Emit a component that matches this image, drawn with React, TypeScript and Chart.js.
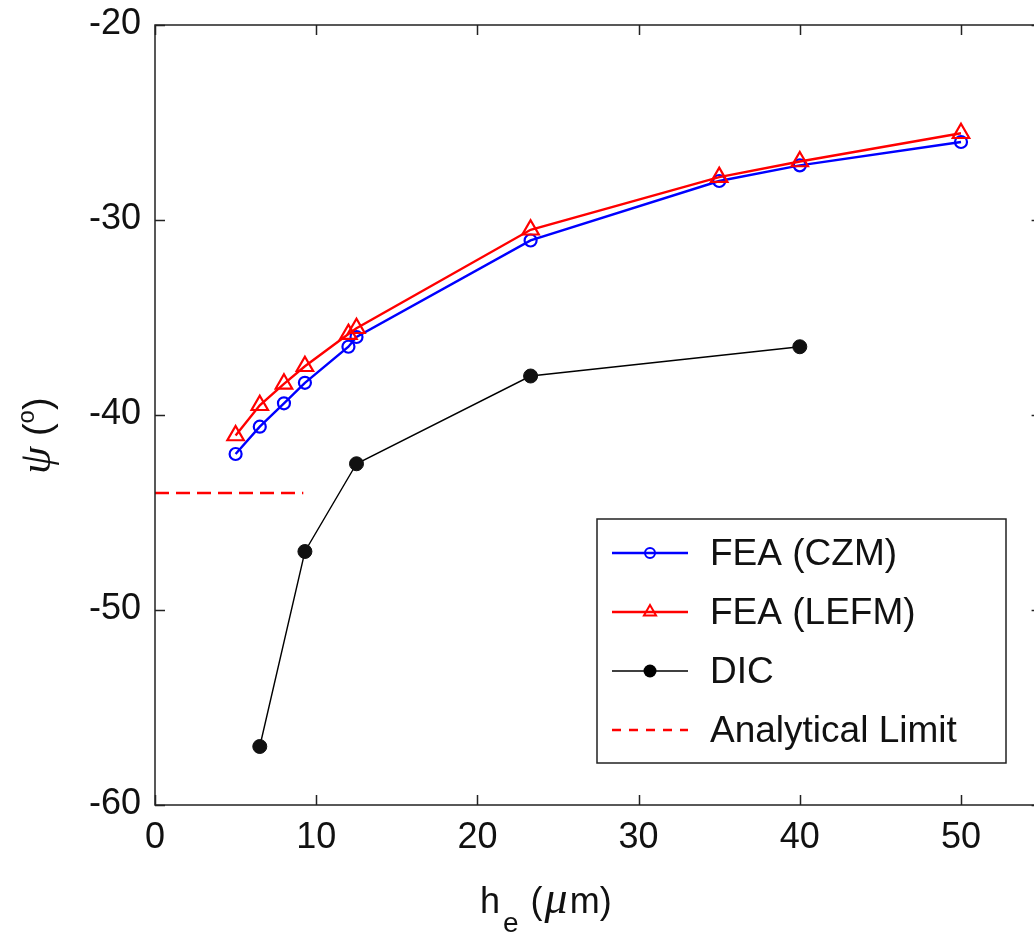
import { useEffect, useRef } from "react";
import { Chart, registerables } from "chart.js";

Chart.register(...registerables);

// Crack-tip mode mixity psi versus element height h_e
const heFea = [5, 6.5, 8, 9.3, 12, 12.5, 23.3, 35, 40, 50];
const psiCzm = [-42, -40.6, -39.4, -38.35, -36.5, -36, -31.05, -28, -27.2, -26];
const psiLefm = [-41.05, -39.5, -38.4, -37.5, -35.85, -35.55, -30.5, -27.8, -27, -25.55];
const heDic = [6.5, 9.3, 12.5, 23.3, 40];
const psiDic = [-57, -47, -42.5, -38, -36.5];
const heLimit = [0, 9.2];
const psiLimit = [-44, -44];

const xTicks = [0, 10, 20, 30, 40, 50];
const yTicks = [-60, -50, -40, -30, -20];
const legendLabels = ["FEA (CZM)", "FEA (LEFM)", "DIC", "Analytical Limit"];

const FONT = '"Liberation Sans", Arial, sans-serif';
const MATH = '"Liberation Serif", "DejaVu Serif", serif';
const W = 1060;
const H = 939;

const pts = (xs: number[], ys: number[]) => xs.map((x, i) => ({ x, y: ys[i] }));

const frame = {
  id: "frame",
  afterDraw(chart: any) {
    const { ctx, chartArea: a, scales } = chart;
    const xs = scales.x;
    const ys = scales.y;
    ctx.save();
    ctx.strokeStyle = "#222";
    ctx.lineWidth = 1.5;
    ctx.strokeRect(a.left, a.top, a.right - a.left, a.bottom - a.top);
    // inward ticks on all four sides
    const tl = 10;
    ctx.beginPath();
    xTicks.forEach((v) => {
      const px = Math.round(xs.getPixelForValue(v)) + 0.5;
      ctx.moveTo(px, a.bottom);
      ctx.lineTo(px, a.bottom - tl);
      ctx.moveTo(px, a.top);
      ctx.lineTo(px, a.top + tl);
    });
    yTicks.forEach((v) => {
      const py = Math.round(ys.getPixelForValue(v)) + 0.5;
      ctx.moveTo(a.left, py);
      ctx.lineTo(a.left + tl, py);
      ctx.moveTo(a.right, py);
      ctx.lineTo(a.right - tl, py);
    });
    ctx.stroke();

    // tick labels
    ctx.fillStyle = "#111";
    ctx.font = `36px ${FONT}`;
    ctx.textBaseline = "middle";
    ctx.textAlign = "center";
    xTicks.forEach((v) => {
      ctx.fillText(String(v), xs.getPixelForValue(v), a.bottom + 33);
    });
    ctx.textAlign = "right";
    yTicks.forEach((v) => {
      ctx.fillText(String(v), a.left - 14, ys.getPixelForValue(v) - 1);
    });

    // x title: h_e (μm)
    const base = 913;
    let x = 480;
    ctx.textAlign = "left";
    ctx.textBaseline = "alphabetic";
    ctx.font = `36px ${FONT}`;
    ctx.fillText("h", x, base);
    x += ctx.measureText("h").width + 3;
    ctx.font = `28px ${FONT}`;
    ctx.fillText("e", x, base + 19);
    x += ctx.measureText("e").width + 2;
    ctx.font = `36px ${FONT}`;
    ctx.fillText(" (", x, base);
    x += ctx.measureText(" (").width + 2;
    ctx.font = `italic 46px ${MATH}`;
    ctx.fillText("\u03bc", x, base);
    x += ctx.measureText("\u03bc").width + 2;
    ctx.font = `36px ${FONT}`;
    ctx.fillText("m)", x, base);

    // y title: psi (°)
    ctx.translate(50, 474);
    ctx.rotate(-Math.PI / 2);
    let y = 0;
    ctx.font = `italic 44px ${MATH}`;
    ctx.fillText("\u03c8", y, 0);
    y += ctx.measureText("\u03c8").width;
    ctx.font = `38px ${FONT}`;
    ctx.fillText(" (", y, 0);
    y += ctx.measureText(" (").width;
    ctx.font = `24px ${FONT}`;
    ctx.fillText("o", y, -16);
    y += ctx.measureText("o").width;
    ctx.font = `38px ${FONT}`;
    ctx.fillText(")", y, 0);
    ctx.restore();

    // legend
    ctx.save();
    const lx = 597, ly = 519, lw = 409, lh = 244;
    ctx.fillStyle = "#fff";
    ctx.fillRect(lx, ly, lw, lh);
    ctx.strokeStyle = "#222";
    ctx.lineWidth = 1.5;
    ctx.strokeRect(lx, ly, lw, lh);
    const rows = [553, 612, 671, 730];
    const colors = ["#0000ff", "#ff0000", "#000000", "#ff0000"];
    rows.forEach((ry, i) => {
      ctx.strokeStyle = colors[i];
      ctx.lineWidth = i === 2 ? 1.4 : 2.4;
      ctx.setLineDash(i === 3 ? [9, 8] : []);
      ctx.beginPath();
      ctx.moveTo(612, ry);
      ctx.lineTo(688, ry);
      ctx.stroke();
      ctx.setLineDash([]);
      ctx.lineWidth = 2;
      if (i === 0) {
        ctx.beginPath();
        ctx.arc(650, ry, 5, 0, Math.PI * 2);
        ctx.stroke();
      } else if (i === 1) {
        const r = 7;
        ctx.beginPath();
        ctx.moveTo(650, ry - r);
        ctx.lineTo(650 + r * 0.866, ry + r * 0.5);
        ctx.lineTo(650 - r * 0.866, ry + r * 0.5);
        ctx.closePath();
        ctx.stroke();
      } else if (i === 2) {
        ctx.fillStyle = "#000";
        ctx.beginPath();
        ctx.arc(650, ry, 6.5, 0, Math.PI * 2);
        ctx.fill();
      }
      ctx.fillStyle = "#111";
      ctx.font = `37px ${FONT}`;
      ctx.textAlign = "left";
      ctx.textBaseline = "middle";
      ctx.fillText(legendLabels[i], 710, ry + 2);
    });
    ctx.restore();
  },
};

export default function App() {
  const ref = useRef<HTMLCanvasElement>(null);

  useEffect(() => {
    if (!ref.current) return;
    const chart = new Chart(ref.current, {
      type: "scatter",
      data: {
        datasets: [
          {
            label: "Analytical Limit",
            data: pts(heLimit, psiLimit),
            showLine: true,
            borderColor: "#ff0000",
            borderWidth: 2.4,
            borderDash: [14, 7],
            pointRadius: 0,
          },
          {
            label: "DIC",
            data: pts(heDic, psiDic),
            showLine: true,
            borderColor: "#000",
            borderWidth: 1.4,
            pointRadius: 7,
            pointBackgroundColor: "#111",
            pointBorderColor: "#111",
            pointBorderWidth: 1,
          },
          {
            label: "FEA (LEFM)",
            data: pts(heFea, psiLefm),
            showLine: true,
            borderColor: "#ff0000",
            borderWidth: 2.4,
            pointStyle: "triangle",
            pointRadius: 9.5,
            pointBackgroundColor: "rgba(255,255,255,0)",
            pointBorderColor: "#ff0000",
            pointBorderWidth: 2.2,
          },
          {
            label: "FEA (CZM)",
            data: pts(heFea, psiCzm),
            showLine: true,
            borderColor: "#0000ff",
            borderWidth: 2.4,
            pointStyle: "circle",
            pointRadius: 6,
            pointBackgroundColor: "rgba(255,255,255,0)",
            pointBorderColor: "#0000ff",
            pointBorderWidth: 2.2,
          },
        ],
      },
      options: {
        responsive: false,
        animation: false,
        events: [],
        layout: { padding: { left: 155, top: 25, right: W - 1041.6, bottom: H - 805 } },
        plugins: { legend: { display: false }, tooltip: { enabled: false } },
        scales: {
          x: {
            type: "linear",
            min: 0,
            max: 55,
            grid: { display: false },
            border: { display: false },
            ticks: { display: false },
            afterFit: (s: any) => {
              s.height = 0;
            },
          },
          y: {
            type: "linear",
            min: -60,
            max: -20,
            grid: { display: false },
            border: { display: false },
            ticks: { display: false },
            afterFit: (s: any) => {
              s.width = 0;
            },
          },
        },
      },
      plugins: [frame],
    });
    return () => chart.destroy();
  }, []);

  return (
    <div
      style={{
        position: "absolute",
        left: 0,
        top: 0,
        width: 1034,
        height: 939,
        overflow: "hidden",
        background: "#fff",
      }}
    >
      <canvas ref={ref} width={W} height={H} style={{ width: W, height: H, display: "block" }} />
    </div>
  );
}
